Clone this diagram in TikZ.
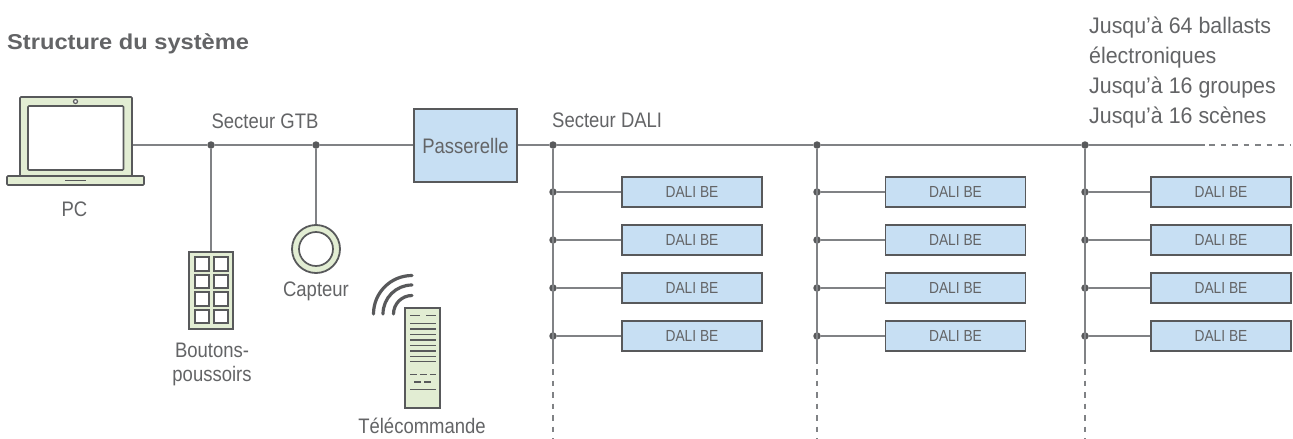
\documentclass[tikz,border=0pt]{standalone}
\usepackage{fontspec}
\setmainfont{Liberation Sans}
\newfontfamily\thinfont[FakeStretch=0.88]{Liberation Sans}
\newfontfamily\smallfont[FakeStretch=0.86]{Liberation Sans}
\newfontfamily\notefont[FakeStretch=0.95]{Liberation Sans}
\newfontfamily\titlefont[FakeStretch=1.1]{Liberation Sans}
\definecolor{wire}{HTML}{808285}
\definecolor{edge}{HTML}{58595B}
\definecolor{txt}{HTML}{636466}
\definecolor{grn}{HTML}{E2EDD3}
\definecolor{blu}{HTML}{C7DFF3}
\tikzset{
  wireline/.style={draw=wire,line width=1.8pt},
  wiredash/.style={draw=wire,line width=1.8pt,dash pattern=on 5.5pt off 6pt},
  dotnode/.style={circle,fill=edge,inner sep=0pt,minimum size=7.5pt},
  label18/.style={font=\thinfont\fontsize{21}{24}\selectfont,text=txt,inner sep=0pt,anchor=base},
  label14/.style={font=\smallfont\fontsize{16}{18}\selectfont,text=txt,inner sep=0pt},
  bebox/.style={draw=edge,fill=blu,line width=1.8pt,minimum width=140pt,minimum height=30pt,inner sep=0pt,label14},
  icon/.style={draw=edge,line width=1.7pt,fill=grn,inner sep=0pt},
  keybtn/.style={draw=edge,line width=1.7pt,fill=white,inner sep=0pt,minimum width=13.5pt,minimum height=13.5pt},
  rline/.style={draw=edge,line width=1.4pt},
}
\begin{document}
\begin{tikzpicture}[x=1pt,y=-1pt]
\useasboundingbox (0,0) rectangle (1293,439);
\fill[white] (0,0) rectangle (1293,439);
% title
\node[inner sep=0pt,anchor=base west,text=txt] (title) at (7,49) {\titlefont\fontsize{21.5}{24}\selectfont\bfseries Structure du système};
% laptop
\draw[icon,rounded corners=1pt] (7,176) rectangle (144,185);
\node[icon,rounded corners=1pt,minimum width=112pt,minimum height=79pt] (pc) at (76,136.5) {};
\draw[edge,line width=1.7pt,fill=white,rounded corners=1pt] (28,106) rectangle (123.5,170);
\draw[edge,line width=1.2pt,fill=white] (75.5,101.5) circle (2pt);
\draw[edge,line width=1.4pt] (65,180.5) -- (86,180.5);
\node[label18] (pclab) at (74.5,216) {PC};
% gateway
\node[draw=edge,fill=blu,line width=1.8pt,minimum width=103pt,minimum height=73pt,inner sep=0pt,label18,anchor=center] (gw) at (465.5,145.5) {Passerelle};
% bus left
\node[dotnode] (d1) at (211,145) {};
\node[dotnode] (d2) at (316,145) {};
\draw[wireline] (pc.east |- d1) -- (d1) -- (d2) -- (gw.west |- d2);
\node[label18] (gtb) at (265,128) {Secteur GTB};
% push buttons
\node[icon,line width=1.8pt,minimum width=44pt,minimum height=77pt] (btn) at (211,290.5) {};
\foreach \yy in {264,281.5,299,316.5}{
  \node[keybtn] at (202,\yy) {};
  \node[keybtn] at (221,\yy) {};
}
\draw[wireline] (d1) -- (btn.north -| d1);
\node[label18] (btnlab1) at (212,357) {Boutons-};
\node[label18] (btnlab2) at (212,381) {poussoirs};
% sensor
\node[icon,circle,line width=1.8pt,minimum size=48pt] (sens) at (316,249) {};
\node[circle,draw=edge,line width=1.7pt,fill=white,minimum size=34pt,inner sep=0pt] (sensin) at (316,249) {};
\draw[wireline] (d2) -- (sens.north);
\node[label18] (senslab) at (316,296) {Capteur};
% remote
\node[icon,line width=1.8pt,minimum width=35pt,minimum height=100pt] (rem) at (422.5,358) {};
\foreach \rr in {38.5,29,18.5}{
  \draw[edge,line width=3.2pt,line cap=round] (412-\rr,314) arc[start angle=180,end angle=90,radius=\rr pt];
}
\draw[rline] (410,315.5) -- (420,315.5) (426,315.5) -- (436,315.5);
\foreach \yy in {323.7,329,334.3,340,345.3,351,356.3,361.7}{\draw[rline] (410,\yy) -- (436,\yy);}
\draw[rline] (410,374.5) -- (417,374.5) (420,374.5) -- (427,374.5) (430,374.5) -- (436,374.5);
\draw[rline] (414,382) -- (421,382) (424,382) -- (431,382);
\draw[rline] (410,389.7) -- (436,389.7);
\node[label18] (remlab) at (422,433) {Télécommande};
% DALI bus
\node[dotnode] (c1) at (553,145) {};
\node[dotnode] (c2) at (817,145) {};
\node[dotnode] (c3) at (1085,145) {};
\coordinate (busend) at (1205,145);
\coordinate (dashend) at (1290,145);
\draw[wireline] (gw.east |- c1) -- (c1) -- (c2) -- (c3) -- (busend);
\draw[wiredash] (1209,145) -- (dashend);
\node[label18,anchor=base west] (dalilab) at (552,127) {Secteur DALI};
\foreach \cc/\xd/\xb in {1/553/692,2/817/955.5,3/1085/1221}{
  \foreach \rr/\yy in {1/192,2/240,3/288,4/336}{
    \node[dotnode] (t\cc\rr) at (\xd,\yy) {};
    \node[bebox] (b\cc\rr) at (\xb,\yy) {DALI BE};
    \draw[wireline] (t\cc\rr) -- (b\cc\rr.west);
  }
  \coordinate (v\cc) at (\xd,364);
  \coordinate (w\cc) at (\xd,439);
  \draw[wireline] (c\cc) -- (v\cc);
  \draw[wiredash] (\xd,369) -- (w\cc);
}
% note
\node[font=\notefont\fontsize{22.5}{30}\selectfont,text=txt,inner sep=0pt,anchor=north west,align=left] (note) at (1089,17) {Jusqu’à 64 ballasts\\électroniques\\Jusqu’à 16 groupes\\Jusqu’à 16 scènes};
\end{tikzpicture}
\end{document}
